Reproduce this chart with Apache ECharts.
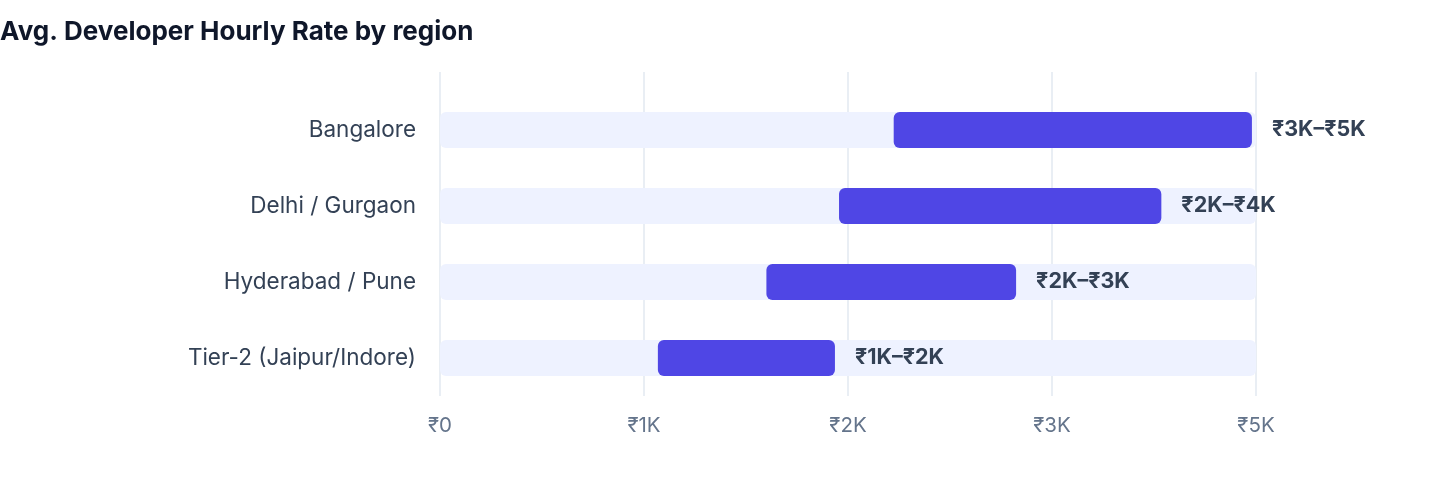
<!DOCTYPE html>
<html>
<head>
<meta charset="utf-8">
<script src="https://cdn.jsdelivr.net/npm/echarts@6/dist/echarts.min.js"></script>
<style>
  html, body { margin: 0; padding: 0; background: #fff; }
  #chart { width: 1440px; height: 484px; }
</style>
</head>
<body>
<div id="chart"></div>
<script>
// regions, top to bottom
var regions = ['Bangalore', 'Delhi / Gurgaon', 'Hyderabad / Pune', 'Tier-2 (Jaipur/Indore)'];
// hourly rate range in ₹
var rateLow = [2780, 2445, 2000, 1335];
var rateHigh = [4975, 4420, 3530, 2420];
var rangeLabels = ['₹3K–₹5K', '₹2K–₹4K', '₹2K–₹3K', '₹1K–₹2K'];
var axisMax = 5000;
var axisStep = 1250;

var FONT = 'Inter, "Liberation Sans", "Noto Sans", sans-serif';

var trackData = regions.map(function () { return axisMax; });
var spanData = rateHigh.map(function (v, i) { return v - rateLow[i]; });

var chart = echarts.init(document.getElementById('chart'));

var option = {
    animation: false,
    title: {
        text: 'Avg. Developer Hourly Rate by region',
        left: 0,
        top: 19,
        padding: 0,
        textStyle: {
            fontFamily: FONT,
            fontSize: 26,
            fontWeight: 'bold',
            color: '#0F172A'
        }
    },
    grid: [
        // grid lines + tick labels
        { left: 440, width: 816, top: 72, height: 324 },
        // the bars
        { left: 440, width: 816, top: 92, height: 304 }
    ],
    xAxis: [{
        gridIndex: 0,
        type: 'value',
        min: 0,
        max: axisMax,
        interval: axisStep,
        axisLine: { show: false },
        axisTick: { show: false },
        splitLine: { show: true, lineStyle: { color: '#E2E8F0', width: 1.5 } },
        axisLabel: {
            margin: 19,
            fontFamily: FONT,
            fontSize: 20.5,
            color: '#64748B',
            formatter: function (v) {
                if (v === 0) return '₹0';
                return '₹' + Math.floor(v / 1000) + 'K';
            }
        }
    }, {
        gridIndex: 1,
        type: 'value',
        min: 0,
        max: axisMax,
        show: false
    }],
    yAxis: [{
        gridIndex: 0,
        type: 'value',
        show: false
    }, {
        gridIndex: 1,
        type: 'category',
        inverse: true,
        data: regions,
        axisLine: { show: false },
        axisTick: { show: false },
        axisLabel: {
            margin: 24,
            fontFamily: FONT,
            fontSize: 22.5,
            color: '#334155'
        }
    }],
    series: [{
        name: 'track',
        type: 'bar',
        xAxisIndex: 1,
        yAxisIndex: 1,
        barWidth: 36,
        barGap: '-100%',
        silent: true,
        itemStyle: { color: '#EEF2FF', borderRadius: 6 },
        data: trackData
    }, {
        name: 'base',
        type: 'bar',
        xAxisIndex: 1,
        yAxisIndex: 1,
        stack: 'range',
        barWidth: 36,
        barGap: '-100%',
        itemStyle: { color: 'transparent' },
        data: rateLow
    }, {
        name: 'rate',
        type: 'bar',
        xAxisIndex: 1,
        yAxisIndex: 1,
        stack: 'range',
        barWidth: 36,
        barGap: '-100%',
        itemStyle: { color: '#4F46E5', borderRadius: 6 },
        label: {
            show: true,
            position: 'right',
            distance: 20,
            fontFamily: FONT,
            fontSize: 21.5,
            fontWeight: 'bold',
            color: '#334155',
            formatter: function (p) { return rangeLabels[p.dataIndex]; }
        },
        data: spanData
    }]
};

chart.setOption(option);
</script>
</body>
</html>
